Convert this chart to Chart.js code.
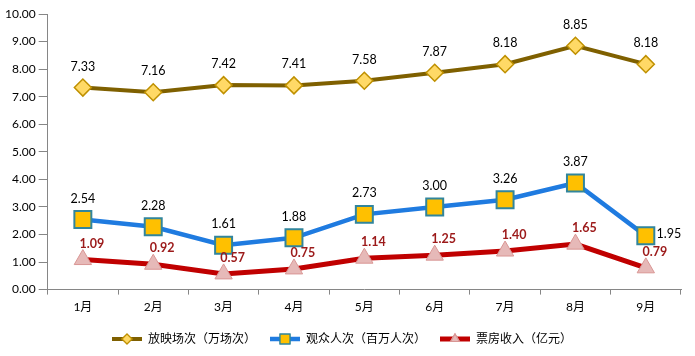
<!DOCTYPE html>
<html>
<head>
<meta charset="utf-8">
<script src="https://cdn.jsdelivr.net/npm/chart.js@4/dist/chart.umd.min.js"></script>
<style>
html,body{margin:0;padding:0;background:#fff;}
#wrap{width:695px;height:356px;}
</style>
</head>
<body>
<div id="wrap"><canvas id="c"></canvas></div>
<script>
const categories = ['1月','2月','3月','4月','5月','6月','7月','8月','9月'];
const screenings = [7.33, 7.16, 7.42, 7.41, 7.58, 7.87, 8.18, 8.85, 8.18];
const audience = [2.54, 2.28, 1.61, 1.88, 2.73, 3.00, 3.26, 3.87, 1.95];
const boxOffice = [1.09, 0.92, 0.57, 0.75, 1.14, 1.25, 1.40, 1.65, 0.79];
const seriesNames = ['放映场次（万场次）', '观众人次（百万人次）', '票房收入（亿元）'];
const yTicks = [0, 1, 2, 3, 4, 5, 6, 7, 8, 9, 10];

const FONT = "Lato, 'Noto Sans CJK SC', sans-serif";

function legendIcon(lineColor, lineW, style, fill, stroke, r) {
  const cv = document.createElement('canvas');
  cv.width = 30; cv.height = 14;
  const ctx = cv.getContext('2d');
  ctx.strokeStyle = lineColor; ctx.lineWidth = lineW; ctx.lineCap = 'butt';
  ctx.beginPath(); ctx.moveTo(0, 7); ctx.lineTo(30, 7); ctx.stroke();
  ctx.fillStyle = fill; ctx.strokeStyle = stroke; ctx.lineWidth = 1.2;
  Chart.helpers.drawPoint(ctx, {pointStyle: style, radius: r, rotation: 0, borderWidth: 1.2}, 15, 7);
  ctx.fill(); ctx.stroke();
  return cv;
}

const labelPlugin = {
  id: 'valueLabels',
  afterDatasetsDraw(chart) {
    const ctx = chart.ctx;
    ctx.save();
    ctx.textAlign = 'center';
    ctx.textBaseline = 'middle';
    chart.data.datasets.forEach((ds, di) => {
      const meta = chart.getDatasetMeta(di);
      meta.data.forEach((pt, i) => {
        const v = ds.data[i].toFixed(2);
        let x = pt.x, y = pt.y;
        if (di === 0) { y -= 21; ctx.fillStyle = '#000'; ctx.font = "12.5px " + FONT; }
        else if (di === 1) {
          ctx.fillStyle = '#000'; ctx.font = "12.5px " + FONT;
          if (i === ds.data.length - 1) { x += 23; y -= 2; } else { y -= 21; }
        } else {
          ctx.fillStyle = '#9C1A1A'; ctx.font = "bold 12.5px " + FONT;
          x += 9; y -= 16;
        }
        ctx.fillText(v, x, y);
      });
    });
    ctx.restore();
  }
};

new Chart(document.getElementById('c'), {
  type: 'line',
  data: {
    labels: categories,
    datasets: [
      {
        label: seriesNames[0], data: screenings,
        borderColor: '#7F6000', borderWidth: 4,
        pointStyle: 'rectRot', pointRadius: 8.5, pointHoverRadius: 8.5,
        pointBackgroundColor: '#FFD966', pointBorderColor: '#BF9000', pointBorderWidth: 1.5,
        tension: 0
      },
      {
        label: seriesNames[1], data: audience,
        borderColor: '#1F7BE0', borderWidth: 4.5,
        pointStyle: 'rect', pointRadius: 12, pointHoverRadius: 12,
        pointBackgroundColor: '#FFC000', pointBorderColor: '#31859C', pointBorderWidth: 2,
        tension: 0
      },
      {
        label: seriesNames[2], data: boxOffice,
        borderColor: '#C00000', borderWidth: 5,
        pointStyle: 'triangle', pointRadius: 10, pointHoverRadius: 10,
        pointBackgroundColor: '#E6B9B8', pointBorderColor: '#D99694', pointBorderWidth: 1,
        tension: 0
      }
    ]
  },
  options: {
    responsive: true,
    maintainAspectRatio: false,
    animation: false,
    devicePixelRatio: 1,
    layout: { padding: { top: 1, right: 13, left: 2, bottom: 1 } },
    plugins: {
      tooltip: { enabled: false },
      legend: {
        position: 'bottom',
        labels: {
          usePointStyle: true,
          pointStyleWidth: 30,
          boxHeight: 12,
          padding: 14,
          color: '#000',
          font: { family: FONT, size: 12 },
          generateLabels(chart) {
            const icons = [
              legendIcon('#7F6000', 4, 'rectRot', '#FFD966', '#BF9000', 5),
              legendIcon('#1F7BE0', 4.5, 'rect', '#FFC000', '#31859C', 7),
              legendIcon('#C00000', 5, 'triangle', '#E6B9B8', '#D99694', 5)
            ];
            return chart.data.datasets.map((ds, i) => ({
              text: ds.label, pointStyle: icons[i], fillStyle: 'transparent',
              strokeStyle: 'transparent', lineWidth: 0, datasetIndex: i, hidden: false,
              fontColor: '#000'
            }));
          }
        }
      }
    },
    scales: {
      x: {
        offset: true,
        grid: { offset: true, drawOnChartArea: false, drawTicks: true, tickLength: 5, color: '#868686' },
        border: { color: '#868686', width: 1 },
        ticks: { color: '#000', font: { family: FONT, size: 12 }, padding: 5 }
      },
      y: {
        min: 0, max: 10,
        afterBuildTicks(axis) { axis.ticks = yTicks.map(v => ({ value: v })); },
        grid: { drawOnChartArea: false, drawTicks: true, tickLength: 9, color: '#868686' },
        border: { color: '#868686', width: 1 },
        ticks: { color: '#000', font: { family: FONT, size: 12 }, padding: 3,
                 callback: v => Number(v).toFixed(2) }
      }
    }
  },
  plugins: [labelPlugin]
});
</script>
</body>
</html>
